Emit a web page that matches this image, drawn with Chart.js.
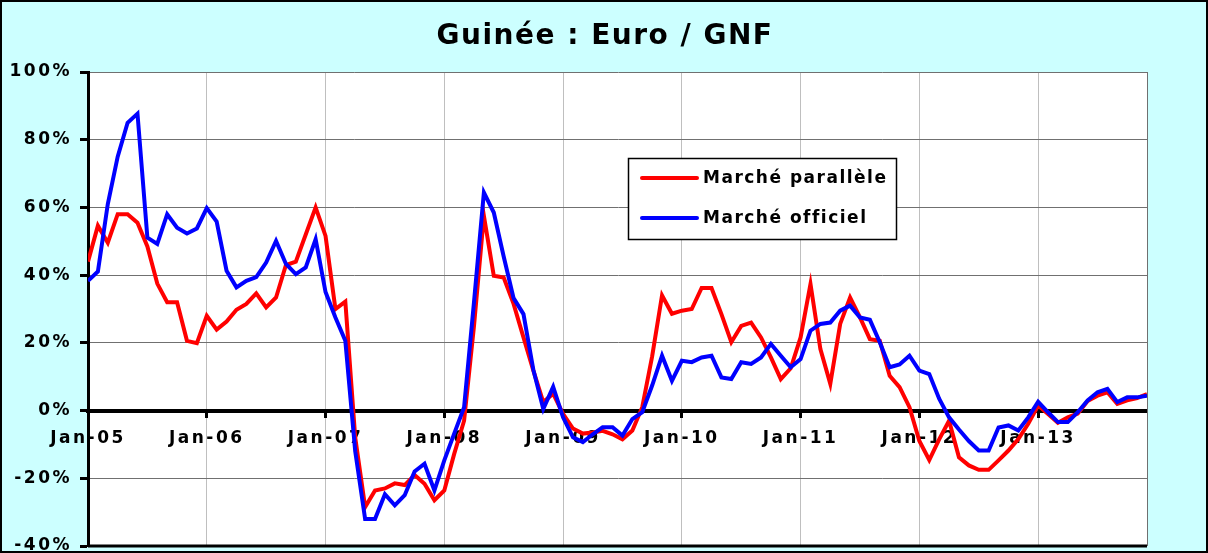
<!DOCTYPE html>
<html lang="fr">
<head>
<meta charset="UTF-8">
<title>Guinée : Euro / GNF</title>
<script src="https://cdn.jsdelivr.net/npm/chart.js@4.4.1/dist/chart.umd.min.js"></script>
<style>
  html, body { margin: 0; padding: 0; background: #CCFFFF; }
  #wrap { width: 1208px; height: 553px; }
</style>
</head>
<body>
<div id="wrap"><canvas id="graphique"></canvas></div>
<script>
const titre = 'Guinée : Euro / GNF';
const annees = ['Jan-05', 'Jan-06', 'Jan-07', 'Jan-08', 'Jan-09', 'Jan-10', 'Jan-11', 'Jan-12', 'Jan-13'];
const nomsSeries = ['Marché parallèle', 'Marché officiel'];
const couleurs = ['#FF0000', '#0000FF'];

// variation en %, mensuel, janv. 2005 -> déc. 2013
const paralleleVals = [
  44, 54.6, 49.6, 58, 58, 55.5, 48.5, 37.5, 32, 32, 20.6, 19.9,
  28, 23.9, 26.3, 29.8, 31.5, 34.6, 30.5, 33.4, 43, 44, 52, 60,
  51.6, 30, 32.2, -8, -28.5, -23.6, -23, -21.5, -22, -19, -21.6, -26.5,
  -23.6, -12.8, -3, 25, 57.5, 39.8, 39.3, 31.5, 21.6, 11.8, 2.5, 5,
  -1, -5.3, -6.8, -6.5, -6, -7, -8.5, -5.9, 1, 16, 34, 28.6,
  29.5, 30, 36.2, 36.2, 28.5, 20.2, 25, 26, 21.6, 15.7, 9.3, 12.5,
  21.6, 37.4, 18.2, 7.9, 25.6, 33.4, 27.5, 21.1, 20.6, 10.3, 6.9, 1,
  -9, -14.6, -8.5, -3, -13.8, -16.2, -17.5, -17.5, -14.7, -11.8, -8.4, -3.9,
  1.5, -1, -3.6, -2, -0.9, 2.8, 4.4, 5.4, 2, 3, 3.7, 4.9
];
const officielVals = [
  38.3, 41.1, 61, 75, 85, 87.7, 51.1, 49.2, 58, 54, 52.3, 53.8,
  59.8, 55.8, 41.3, 36.4, 38.3, 39.4, 43.7, 50.1, 43.3, 40.3, 42.3, 50.6,
  35, 27.5, 20.6, -12, -32, -32, -24.7, -28, -25, -18, -15.7, -23.6,
  -14.7, -6.8, 1, 32, 64.4, 58.5, 45.5, 33.2, 28.5, 12, 0.5, 7,
  -2, -7.9, -9.3, -7, -4.9, -4.9, -7.4, -2.5, -0.5, 7.4, 16.2, 8.8,
  14.7, 14.3, 15.7, 16.2, 9.8, 9.3, 14.3, 13.8, 15.7, 19.7, 16.2, 12.8,
  15.2, 23.6, 25.6, 26, 29.5, 31, 27.5, 26.8, 20.2, 12.8, 13.6, 16.2,
  11.8, 10.8, 3.5, -2, -5.6, -9, -11.8, -11.8, -5, -4.4, -5.9, -2,
  2.6, -0.5, -3.4, -3.4, -0.5, 3, 5.4, 6.4, 2.5, 3.9, 3.9, 4.4
];

const police = '"DejaVu Sans", sans-serif';
const espacement = '2.5px';

// fond cyan, zone de tracé blanche, cadre, titre et légende
const fond = {
  id: 'fond',
  beforeLayout(chart) { chart.ctx.letterSpacing = espacement; },
  beforeDraw(chart) {
    const ctx = chart.ctx, a = chart.chartArea;
    ctx.save();
    ctx.fillStyle = '#CCFFFF';
    ctx.fillRect(0, 0, chart.width, chart.height);
    ctx.fillStyle = '#FFFFFF';
    ctx.fillRect(a.left, a.top, a.right - a.left, a.bottom - a.top);
    ctx.strokeStyle = '#000';
    ctx.lineWidth = 2;
    ctx.strokeRect(1, 1, chart.width - 2, chart.height - 2);
    ctx.restore();
    ctx.letterSpacing = espacement;
  },
  beforeDatasetsDraw(chart) {
    const ctx = chart.ctx, a = chart.chartArea;
    ctx.save();
    ctx.strokeStyle = '#707070';
    ctx.lineWidth = 1;
    ctx.beginPath();
    ctx.moveTo(a.right + 0.5, a.top);
    ctx.lineTo(a.right + 0.5, a.bottom);
    ctx.stroke();
    ctx.strokeStyle = '#000';
    ctx.lineWidth = 3;
    ctx.beginPath();
    ctx.moveTo(a.left, a.bottom);
    ctx.lineTo(a.right, a.bottom);
    ctx.stroke();
    ctx.restore();
  },
  afterDraw(chart) {
    const ctx = chart.ctx;
    ctx.save();
    // titre
    ctx.letterSpacing = '1.5px';
    ctx.font = 'bold 28px ' + police;
    ctx.fillStyle = '#000';
    ctx.textAlign = 'center';
    ctx.textBaseline = 'middle';
    ctx.fillText(titre, 605, 37);
    // légende
    ctx.fillStyle = '#FFF';
    ctx.fillRect(628, 158, 269, 82);
    ctx.strokeStyle = '#000';
    ctx.lineWidth = 1.5;
    ctx.strokeRect(628.5, 158.5, 268, 81);
    ctx.letterSpacing = '1.5px';
    ctx.font = 'bold 17px ' + police;
    ctx.textAlign = 'left';
    [0, 1].forEach((k, j) => {
      const ds = chart.data.datasets[k];
      const y = 178 + j * 40;
      ctx.strokeStyle = ds.borderColor;
      ctx.lineWidth = 4;
      ctx.lineCap = 'round';
      ctx.beginPath();
      ctx.moveTo(642, y);
      ctx.lineTo(697, y);
      ctx.stroke();
      ctx.fillStyle = '#000';
      ctx.fillText(ds.label, 703, y + 1);
    });
    ctx.restore();
  }
};

const ctx = document.getElementById('graphique');
new Chart(ctx, {
  type: 'line',
  data: {
    datasets: [
      {
        label: nomsSeries[0],
        data: paralleleVals.map((v, i) => ({ x: i, y: v })),
        borderColor: couleurs[0],
        borderWidth: 4,
        pointRadius: 0,
        tension: 0,
        order: 1
      },
      {
        label: nomsSeries[1],
        data: officielVals.map((v, i) => ({ x: i, y: v })),
        borderColor: couleurs[1],
        borderWidth: 4,
        pointRadius: 0,
        tension: 0,
        order: 0
      }
    ]
  },
  options: {
    responsive: true,
    maintainAspectRatio: false,
    animation: false,
    devicePixelRatio: 1,
    layout: { padding: { top: 72, right: 61, bottom: 7, left: 0 } },
    plugins: {
      legend: { display: false },
      title: { display: false },
      tooltip: { enabled: false }
    },
    scales: {
      x: {
        type: 'linear',
        min: 0,
        max: paralleleVals.length - 1,
        position: { y: 0 },
        afterBuildTicks(scale) {
          scale.ticks = annees.map((a, k) => ({ value: k * 12 }));
        },
        afterFit(scale) {
          scale.paddingTop = 0;
          scale.paddingBottom = 0;
        },
        ticks: {
          autoSkip: false,
          maxRotation: 0,
          padding: 13,
          color: '#000',
          font: { family: police, weight: 'bold', size: 17 },
          callback: (v) => annees[Math.round(v / 12)]
        },
        grid: {
          color: '#BFBFBF',
          lineWidth: 1,
          tickColor: '#000',
          tickLength: 5,
          tickWidth: 3
        },
        border: { display: true, color: '#000', width: 4 }
      },
      y: {
        min: -40,
        max: 100,
        afterFit(scale) {
          scale.width = 88;
          scale.paddingTop = 0;
          scale.paddingBottom = 0;
        },
        ticks: {
          stepSize: 20,
          padding: 8,
          color: '#000',
          font: { family: police, weight: 'bold', size: 17 },
          callback: (v) => v + '%'
        },
        grid: {
          color: '#707070',
          lineWidth: 1,
          tickColor: '#000',
          tickLength: 8,
          tickWidth: 3
        },
        border: { display: true, color: '#000', width: 3 }
      }
    }
  },
  plugins: [fond]
});
</script>
</body>
</html>
